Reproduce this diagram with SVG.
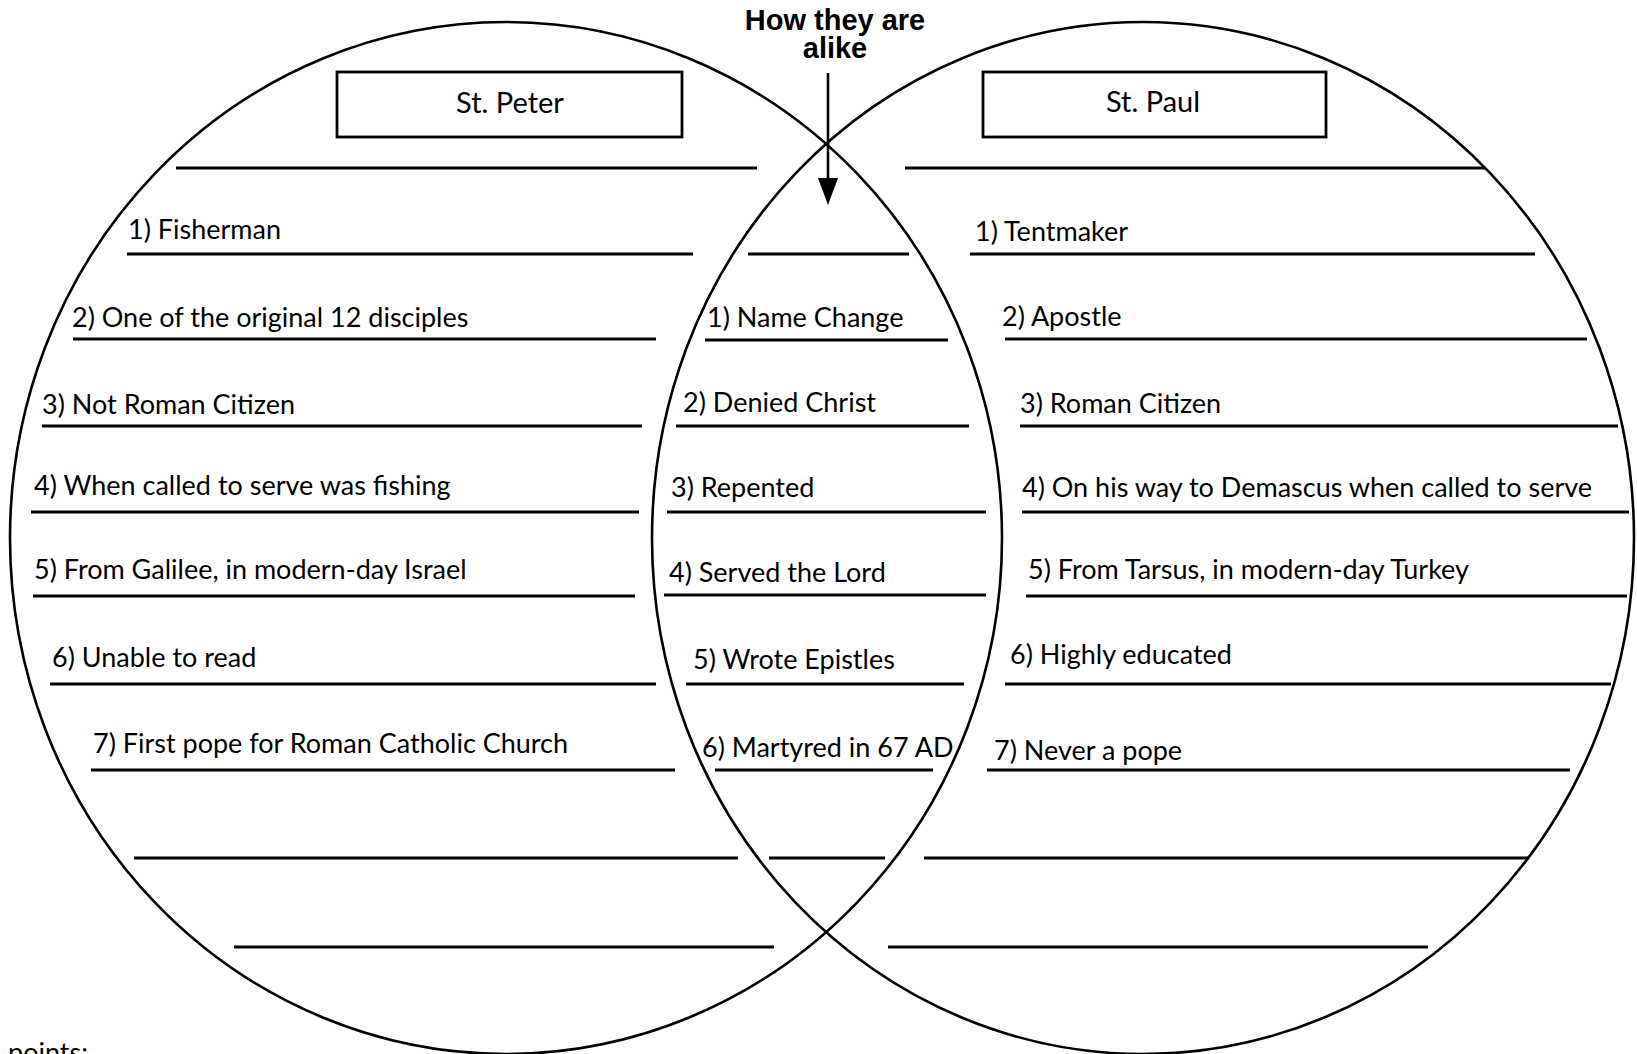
<svg xmlns="http://www.w3.org/2000/svg" width="1637" height="1054" viewBox="0 0 1637 1054">
<style>
.c{fill:none;stroke:#000;stroke-width:2.6}
.b{fill:#fff;stroke:#000;stroke-width:2.8}
.l{stroke:#000;stroke-width:3.2}
.t{font-family:Lato,"Open Sans","Noto Sans",sans-serif;font-size:27px;fill:#000}
.h{font-family:"Liberation Sans",Arial,sans-serif;font-weight:bold;font-size:29px;fill:#000;text-anchor:middle}
</style>
<rect width="1637" height="1054" fill="#fff"/>

<g id="circle-peter"><ellipse class="c" cx="506" cy="538" rx="496" ry="516"/></g>
<g id="circle-paul"><ellipse class="c" cx="1143" cy="538" rx="491" ry="516"/></g>

<g id="title">
<text class="h" x="835" y="30">How they are</text>
<text class="h" x="835" y="58">alike</text>
</g>

<g id="connectors">
<line x1="828" y1="73" x2="828" y2="178" stroke="#000" stroke-width="2.6"/>
<path d="M818,178 L838,178 L828,205 Z" fill="#000"/>
</g>

<g id="box-peter">
<rect class="b" x="337" y="72" width="345" height="65"/>
<text class="t" x="510" y="113" text-anchor="middle" style="font-size:29px">St. Peter</text>
</g>
<g id="box-paul">
<rect class="b" x="983" y="72" width="343" height="65"/>
<text class="t" x="1153" y="112" text-anchor="middle" style="font-size:29px">St. Paul</text>
</g>

<g id="peter-list">
<line class="l" x1="176" y1="168" x2="757" y2="168"/>
<g id="p1"><text class="t" x="128" y="239">1) Fisherman</text><line class="l" x1="127" y1="254" x2="693" y2="254"/></g>
<g id="p2"><text class="t" x="72" y="327">2) One of the original 12 disciples</text><line class="l" x1="73" y1="339" x2="656" y2="339"/></g>
<g id="p3"><text class="t" x="42" y="414">3) Not Roman Citizen</text><line class="l" x1="42" y1="426" x2="642" y2="426"/></g>
<g id="p4"><text class="t" x="34" y="495">4) When called to serve was fishing</text><line class="l" x1="31" y1="512" x2="639" y2="512"/></g>
<g id="p5"><text class="t" x="34" y="579">5) From Galilee, in modern-day Israel</text><line class="l" x1="33" y1="596" x2="635" y2="596"/></g>
<g id="p6"><text class="t" x="52" y="667">6) Unable to read</text><line class="l" x1="50" y1="684" x2="656" y2="684"/></g>
<g id="p7"><text class="t" x="93" y="753">7) First pope for Roman Catholic Church</text><line class="l" x1="91" y1="770" x2="675" y2="770"/></g>
<line class="l" x1="134" y1="858" x2="738" y2="858"/>
<line class="l" x1="234" y1="947" x2="774" y2="947"/>
</g>

<g id="alike-list">
<line class="l" x1="748" y1="254" x2="909" y2="254"/>
<g id="a1"><text class="t" x="707" y="327">1) Name Change</text><line class="l" x1="705" y1="340" x2="948" y2="340"/></g>
<g id="a2"><text class="t" x="683" y="412">2) Denied Christ</text><line class="l" x1="676" y1="426" x2="969" y2="426"/></g>
<g id="a3"><text class="t" x="671" y="497">3) Repented</text><line class="l" x1="667" y1="512" x2="986" y2="512"/></g>
<g id="a4"><text class="t" x="669" y="582">4) Served the Lord</text><line class="l" x1="664" y1="595" x2="986" y2="595"/></g>
<g id="a5"><text class="t" x="693" y="669">5) Wrote Epistles</text><line class="l" x1="686" y1="684" x2="964" y2="684"/></g>
<g id="a6"><text class="t" x="702" y="757">6) Martyred in 67 AD</text><line class="l" x1="715" y1="770" x2="933" y2="770"/></g>
<line class="l" x1="769" y1="858" x2="885" y2="858"/>
</g>

<g id="paul-list">
<line class="l" x1="905" y1="168" x2="1485" y2="168"/>
<g id="q1"><text class="t" x="975" y="241">1) Tentmaker</text><line class="l" x1="970" y1="254" x2="1535" y2="254"/></g>
<g id="q2"><text class="t" x="1002" y="326">2) Apostle</text><line class="l" x1="1005" y1="339" x2="1587" y2="339"/></g>
<g id="q3"><text class="t" x="1020" y="413">3) Roman Citizen</text><line class="l" x1="1020" y1="426" x2="1618" y2="426"/></g>
<g id="q4"><text class="t" x="1022" y="497">4) On his way to Demascus when called to serve</text><line class="l" x1="1022" y1="512" x2="1629" y2="512"/></g>
<g id="q5"><text class="t" x="1028" y="579">5) From Tarsus, in modern-day Turkey</text><line class="l" x1="1026" y1="596" x2="1627" y2="596"/></g>
<g id="q6"><text class="t" x="1010" y="664">6) Highly educated</text><line class="l" x1="1005" y1="684" x2="1611" y2="684"/></g>
<g id="q7"><text class="t" x="994" y="760">7) Never a pope</text><line class="l" x1="987" y1="770" x2="1570" y2="770"/></g>
<line class="l" x1="924" y1="858" x2="1529" y2="858"/>
<line class="l" x1="888" y1="947" x2="1428" y2="947"/>
</g>

<text class="t" x="8" y="1062">points:</text>
</svg>
